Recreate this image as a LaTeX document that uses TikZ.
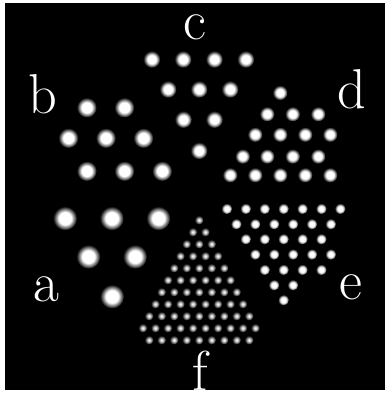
\documentclass[tikz,border=0pt]{standalone}
\usepackage{fontspec}
\usepackage{tikz}
\pgfdeclareradialshading{softspot}{\pgfpoint{0bp}{0bp}}{color(0bp)=(white); color(13bp)=(white); color(25bp)=(black); color(50bp)=(black)}
\pgfdeclareradialshading{finespot}{\pgfpoint{0bp}{0bp}}{color(0bp)=(white); color(7bp)=(white!85!black); color(25bp)=(black); color(50bp)=(black)}
\tikzset{
  spot/.style={shade,shading=softspot},
  finedot/.style={shade,shading=finespot},
  lab/.style={text=white,font=\fontsize{32}{36}\selectfont,anchor=base,inner sep=0pt}
}

\begin{document}
\begin{tikzpicture}[x=0.02cm,y=-0.02cm]
\useasboundingbox (0,0) rectangle (386,394);
\fill[white] (0,0) rectangle (386,394);
\fill[black] (5,3) rectangle (385,390);
% a
\foreach \p in {(65,218.3),(111.7,218.3),(158.3,218.3),(88.3,256.7),(135,256.7),(112,296.5)}
  \path[spot] \p circle[radius=0.24cm];
% b
\foreach \p in {(86.7,107.5),(124.3,107.5),(68.3,138),(105.8,138),(143.3,138),(86.7,171),(124.3,171),(162,171)}
  \path[spot] \p circle[radius=0.2cm];
% c
\foreach \p in {(151.7,59.3),(183,59.3),(214.3,59.3),(245.7,59.3),(168,89.3),(199,89.3),(230,89.3),(183.3,119.5),(214.3,119.5),(199,150.7)}
  \path[spot] \p circle[radius=0.17cm];
% d
\foreach \p in {(280,92.7),(267,114),(292.5,114),(318,114),(255,134.5),(280,134.5),(305,134.5),(330,134.5),
  (242.5,156.3),(267,156.3),(292.5,156.3),(318,156.3),(230,175),(255,175),(280,175),(305,175),(330,175)}
  \path[spot] \p circle[radius=0.15cm];
% e
\foreach \m/\ye in {0/208.7,2/208.7,4/208.7,6/208.7,8/208.7,10/208.7,12/208.7,
  1/224,3/224,5/224,7/224,9/224,11/224,
  2/239,4/239,6/239,8/239,10/239,
  3/254.3,5/254.3,7/254.3,9/254.3,11/254.3,
  4/269.7,6/269.7,8/269.7,10/269.7,
  5/285,7/285,6/300}
  \path[spot] ({226.7+9.45*\m},\ye) circle[radius=0.11cm];
% f
\foreach \k in {1,...,10}
  \foreach \j in {1,...,\k}
    \path[finedot] ({199+(\j-(\k+1)/2)*12.5},{220+(\k-1)*12}) circle[radius=0.09cm];
\foreach \j in {1,...,9}
  \path[finedot] ({199+(\j-5)*12.5},340) circle[radius=0.09cm];
\node[lab] (la) at (46.2,301.5) {a};
\node[lab] (lb) at (42.5,114) {b};
\node[lab] (lc) at (195,39.3) {c};
\node[lab] (ld) at (351.7,108.3) {d};
\node[lab] (le) at (351,299.3) {e};
\node[lab] (lf) at (200,390) {f};
\end{tikzpicture}
\end{document}
